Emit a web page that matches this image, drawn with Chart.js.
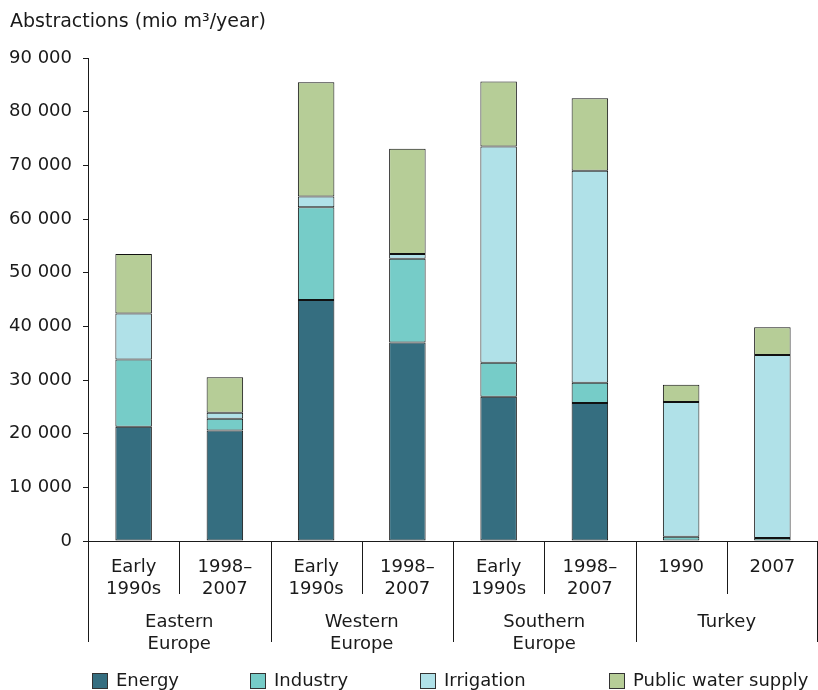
<!DOCTYPE html>
<html>
<head>
<meta charset="utf-8">
<script src="https://cdn.jsdelivr.net/npm/chart.js@4.4.1/dist/chart.umd.min.js"></script>
<style>
  body { margin: 0; background: #fff; }
  canvas { display: block; }
</style>
</head>
<body>
<canvas id="abstractionChart" width="818" height="690"></canvas>
<script>
// Data (mio m3/year)
const categories = [
    ['Early', '1990s'], ['1998–', '2007'],
    ['Early', '1990s'], ['1998–', '2007'],
    ['Early', '1990s'], ['1998–', '2007'],
    ['1990'], ['2007']
];
const groups = [
    ['Eastern', 'Europe'],
    ['Western', 'Europe'],
    ['Southern', 'Europe'],
    ['Turkey']
];
const energy      = [21300, 20600, 44900, 37000, 26900, 25700, 0, 0];
const industry    = [12500, 2200, 17300, 15600, 6300, 3800, 800, 550];
const irrigation  = [8600, 1100, 2000, 900, 40300, 39500, 25100, 34100];
const publicWater = [11100, 6600, 21300, 19600, 12100, 13500, 3200, 5200];
const yTicks = [0, 10000, 20000, 30000, 40000, 50000, 60000, 70000, 80000, 90000];

const FONT = "'DejaVu Sans', Verdana, sans-serif";
const TEXT = '#1a1a1a';

function fmt(v) {
    return String(v).replace(/\B(?=(\d{3})+(?!\d))/g, ' ');
}

// Draws title, two-level x labels with dividers, and the legend
const labelsPlugin = {
    id: 'labelsPlugin',
    afterDraw(chart) {
        const ctx = chart.ctx;
        const x = chart.scales.x;
        const area = chart.chartArea;
        const half = (x.getPixelForValue(1) - x.getPixelForValue(0)) / 2;

        ctx.save();
        ctx.fillStyle = TEXT;
        ctx.textBaseline = 'middle';

        // title
        ctx.font = `19px ${FONT}`;
        ctx.textAlign = 'left';
        ctx.fillText('Abstractions (mio m³/year)', 10, 22);

        ctx.font = `18px ${FONT}`;

        // dividers
        ctx.strokeStyle = TEXT;
        ctx.lineWidth = 1;
        for (let k = 0; k <= categories.length; k++) {
            let px = x.getPixelForValue(k) - half;
            px = Math.min(Math.round(px) + 0.5, chart.width - 0.5);
            const long = k % 2 === 0;
            ctx.beginPath();
            ctx.moveTo(px, area.bottom);
            ctx.lineTo(px, long ? 642 : 594);
            ctx.stroke();
        }

        // sub-category labels
        ctx.textAlign = 'center';
        categories.forEach((lines, i) => {
            const cx = x.getPixelForValue(i);
            lines.forEach((line, j) => ctx.fillText(line, cx, 567 + j * 22));
        });

        // group labels
        groups.forEach((lines, g) => {
            const cx = (x.getPixelForValue(2 * g) + x.getPixelForValue(2 * g + 1)) / 2;
            lines.forEach((line, j) => ctx.fillText(line, cx, 622 + j * 22));
        });

        // legend
        const legendX = [92, 250, 420, 609];
        ctx.textAlign = 'left';
        chart.data.datasets.forEach((ds, i) => {
            const lx = legendX[i];
            ctx.fillStyle = ds.backgroundColor;
            ctx.fillRect(lx, 673, 16, 16);
            ctx.strokeStyle = '#333';
            ctx.strokeRect(lx + 0.5, 673.5, 15, 15);
            ctx.fillStyle = TEXT;
            ctx.fillText(ds.label, lx + 24, 681);
        });

        ctx.restore();
    }
};

const ctx = document.getElementById('abstractionChart').getContext('2d');

const makeSet = (label, data, color) => ({
    label: label,
    data: data,
    backgroundColor: color,
    borderColor: '#111',
    borderWidth: 1,
    borderSkipped: false,
    categoryPercentage: 1.0,
    barPercentage: 0.4
});

new Chart(ctx, {
    type: 'bar',
    data: {
        labels: categories.map(c => c.join(' ')),
        datasets: [
            makeSet('Energy', energy, '#356e80'),
            makeSet('Industry', industry, '#76ccc8'),
            makeSet('Irrigation', irrigation, '#b0e1e8'),
            makeSet('Public water supply', publicWater, '#b6cd97')
        ]
    },
    options: {
        responsive: false,
        animation: false,
        layout: {
            padding: { top: 58, bottom: 149, left: 0, right: 0 }
        },
        plugins: {
            legend: { display: false },
            tooltip: { enabled: false }
        },
        scales: {
            x: {
                stacked: true,
                ticks: { display: false },
                grid: { display: false, drawTicks: false },
                border: { display: true, color: TEXT, width: 1 },
                afterFit: (scale) => { scale.height = 0; }
            },
            y: {
                stacked: true,
                min: 0,
                max: 90000,
                afterBuildTicks: (scale) => {
                    scale.ticks = yTicks.map(v => ({ value: v }));
                },
                ticks: {
                    color: TEXT,
                    padding: 11,
                    font: { family: FONT, size: 18 },
                    callback: (v) => fmt(v)
                },
                grid: {
                    drawOnChartArea: false,
                    drawTicks: true,
                    tickLength: 5,
                    color: TEXT
                },
                border: { display: true, color: TEXT, width: 1 },
                afterFit: (scale) => { scale.width = 88; }
            }
        }
    },
    plugins: [labelsPlugin]
});
</script>
</body>
</html>
